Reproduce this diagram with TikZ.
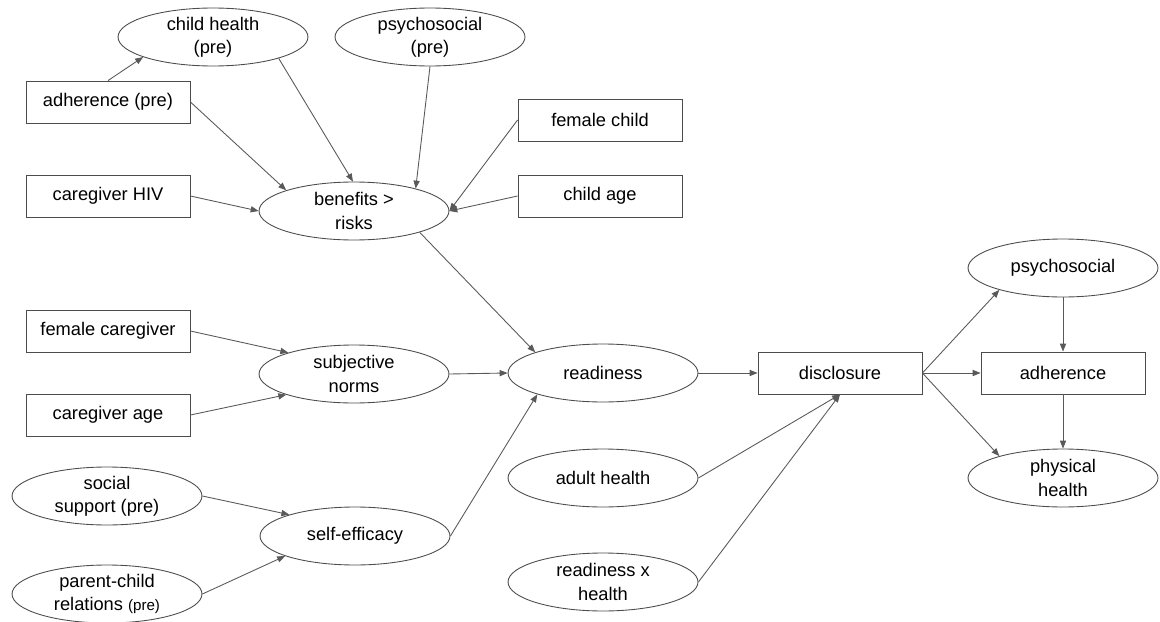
\documentclass[tikz,border=0pt]{standalone}
\usepackage{fontspec}
\setmainfont{Liberation Sans}
\usetikzlibrary{shapes.geometric,arrows.meta}
\tikzset{
  box/.style={draw=black!70, line width=0.5pt, rectangle, minimum width=3.28cm, minimum height=0.84cm, inner sep=0pt},
  oval/.style={draw=black!70, line width=0.5pt, ellipse, minimum width=3.8cm, minimum height=1.16cm, inner sep=0pt, align=center},
  link/.style={draw=black!65, line width=0.5pt, -{Triangle[length=4.5pt,width=3.5pt]}}
}
\begin{document}
\begin{tikzpicture}[x=0.02cm,y=-0.02cm,font=\fontsize{10.4}{13.2}\selectfont]
\useasboundingbox (0,0) rectangle (1160,622);

\node[oval] (chpre) at (213,37) {child health\\(pre)};
\node[oval] (pspre) at (430,37) {psychosocial\\(pre)};
\node[box] (adhpre) at (108,102) {adherence (pre)};
\node[box] (cghiv) at (108,196) {caregiver HIV};
\node[oval] (benefits) at (354,211) {benefits >\\risks};
\node[box] (femchild) at (600,120) {female child};
\node[box] (childage) at (600,196) {child age};

\node[box] (femcg) at (108,331) {female caregiver};
\node[box] (cgage) at (108,415) {caregiver age};
\node[oval] (subjnorms) at (354,374) {subjective\\norms};
\node[oval] (socsup) at (107,496) {social\\support (pre)};
\node[oval] (pcrel) at (107,594) {parent-child\\relations {\fontsize{8.6}{10}\selectfont(pre)}};
\node[oval] (selfeff) at (355,536) {self-efficacy};

\node[oval] (readiness) at (603,373) {readiness};
\node[oval] (adulth) at (603,478) {adult health};
\node[oval] (rxh) at (603,582) {readiness x\\health};
\node[box] (disclosure) at (840,373) {disclosure};

\node[oval] (psych) at (1063,268) {psychosocial};
\node[box] (adh) at (1063,373) {adherence};
\node[oval] (physh) at (1063,478) {physical\\health};

\draw[link] (adhpre.north) -- (chpre.196);
\draw[link] (adhpre.east) -- (benefits.163);
\draw[link] (chpre.342) -- (benefits.92);
\draw[link] (pspre.south) -- (benefits.20);
\draw[link] (cghiv.east) -- (benefits.west);
\draw[link] (femchild.west) -- (benefits.east);
\draw[link] (childage.west) -- (benefits.east);

\draw[link] (femcg.east) -- (subjnorms.162);
\draw[link] (cgage.east) -- (subjnorms.197);
\draw[link] (socsup.east) -- (selfeff.162);
\draw[link] (pcrel.east) -- (selfeff.196);

\draw[link] (benefits.342) -- (readiness.163);
\draw[link] (subjnorms.east) -- (readiness.west);
\draw[link] (selfeff.east) -- (readiness.198);

\draw[link] (readiness.east) -- (disclosure.west);
\draw[link] (adulth.east) -- (disclosure.south);
\draw[link] (rxh.east) -- (disclosure.south);

\draw[link] (disclosure.east) -- (psych.199);
\draw[link] (disclosure.east) -- (adh.west);
\draw[link] (disclosure.east) -- (physh.161);
\draw[link] (psych.south) -- (adh.north);
\draw[link] (adh.south) -- (physh.north);
\end{tikzpicture}
\end{document}
